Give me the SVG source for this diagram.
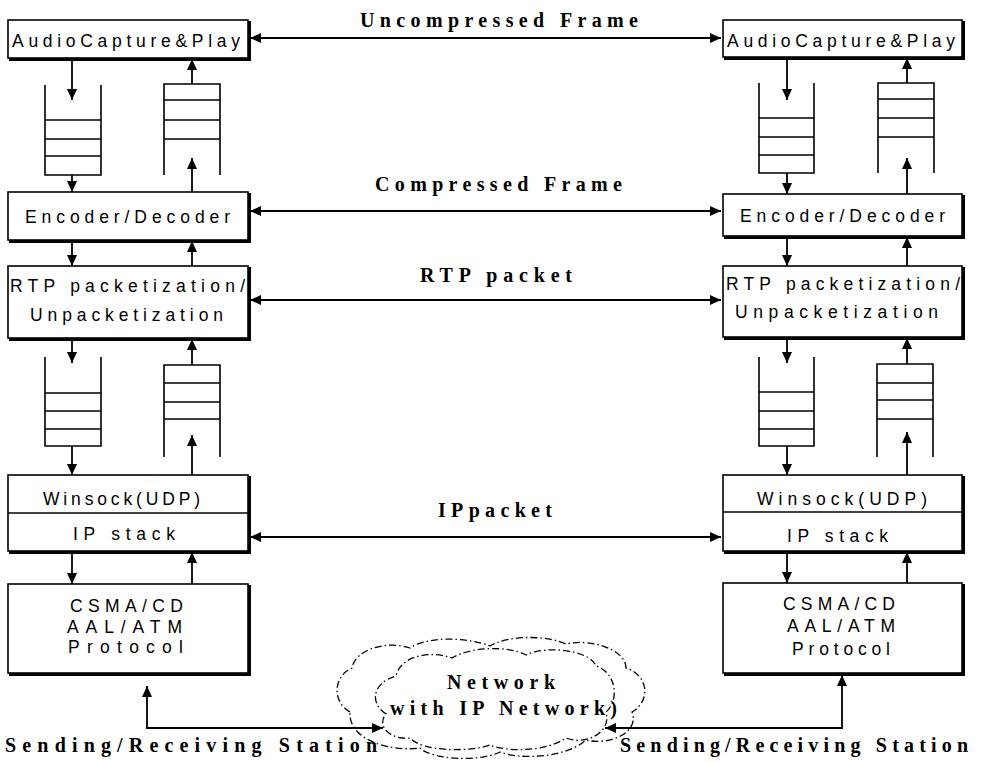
<svg xmlns="http://www.w3.org/2000/svg" width="982" height="763" viewBox="0 0 982 763">
  <style>
    .box { fill: #fff; stroke: #000; stroke-width: 1.6; }
    .shadow { fill: none; stroke: #000; stroke-width: 3; }
    .div { stroke: #000; stroke-width: 1.6; }
    .q { fill: none; stroke: #000; stroke-width: 1.6; }
    .lbl { font-family: "Liberation Sans", Arial, sans-serif; font-size: 17.5px; fill: #000; }
    .mid { font-family: "Liberation Serif", "Times New Roman", serif; font-weight: bold; font-size: 20px; fill: #000; }
    .wire { fill: none; stroke: #000; stroke-width: 1.8; }
    .hw { fill: none; stroke: #000; stroke-width: 2.2; }
    .cloud { fill: none; stroke: #000; stroke-width: 1.3; stroke-dasharray: 7 3 1.5 3; }
  </style>
  <defs>
    <marker id="ah" markerUnits="userSpaceOnUse" markerWidth="12" markerHeight="10" refX="11" refY="5" orient="auto-start-reverse">
      <path d="M0,0 L11,5 L0,10 Z" fill="#000"/>
    </marker>
  </defs>

  <rect width="982" height="763" fill="#fff"/>

  <!-- left station -->
  <g id="audio-left">
    <rect class="box" x="8" y="20" width="240" height="38"/>
    <path class="shadow" d="M249.5 21 V59.5 H9"/>
    <text class="lbl" x="12" y="47" textLength="228" lengthAdjust="spacing">AudioCapture&amp;Play</text>
  </g>
  <g id="codec-left">
    <rect class="box" x="8" y="192" width="240" height="48"/>
    <path class="shadow" d="M249.5 193 V241.5 H9"/>
    <text class="lbl" x="25" y="223" textLength="205" lengthAdjust="spacing">Encoder/Decoder</text>
  </g>
  <g id="rtp-left">
    <rect class="box" x="8" y="266" width="240" height="72"/>
    <path class="shadow" d="M249.5 267 V339.5 H9"/>
    <text class="lbl" x="10" y="292" textLength="235" lengthAdjust="spacing">RTP packetization/</text>
    <text class="lbl" x="30" y="321" textLength="193" lengthAdjust="spacing">Unpacketization</text>
  </g>
  <g id="udp-left">
    <rect class="box" x="8" y="475" width="240" height="76"/>
    <path class="shadow" d="M249.5 476 V552.5 H9"/>
    <line class="div" x1="8" y1="513" x2="248" y2="513"/>
    <text class="lbl" x="43" y="505" textLength="157" lengthAdjust="spacing">Winsock(UDP)</text>
    <text class="lbl" x="73" y="540" textLength="102" lengthAdjust="spacing">IP stack</text>
  </g>
  <g id="link-left">
    <rect class="box" x="8" y="584" width="240" height="89"/>
    <path class="shadow" d="M249.5 585 V674.5 H9"/>
    <text class="lbl" x="70" y="612" textLength="113" lengthAdjust="spacing">CSMA/CD</text>
    <text class="lbl" x="67" y="633" textLength="115" lengthAdjust="spacing">AAL/ATM</text>
    <text class="lbl" x="68" y="653" textLength="115" lengthAdjust="spacing">Protocol</text>
  </g>
  <g id="queue-left-1">
    <path class="q" d="M45 85 V175 H101 V85 M45 120 H101 M45 139 H101 M45 156 H101"/>
  </g>
  <g id="queue-left-2">
    <path class="q" d="M164 175 V84 H220 V175 M164 100 H220 M164 120 H220 M164 139 H220"/>
  </g>
  <g id="queue-left-3">
    <path class="q" d="M45 357 V446 H101 V357 M45 393 H101 M45 411 H101 M45 429 H101"/>
  </g>
  <g id="queue-left-4">
    <path class="q" d="M164 457 V365 H220 V457 M164 383 H220 M164 402 H220 M164 419 H220"/>
  </g>

  <!-- right station -->
  <g id="audio-right">
    <rect class="box" x="723" y="20" width="239" height="37"/>
    <path class="shadow" d="M963.5 21 V58.5 H724"/>
    <text class="lbl" x="727" y="47" textLength="228" lengthAdjust="spacing">AudioCapture&amp;Play</text>
  </g>
  <g id="codec-right">
    <rect class="box" x="723" y="194" width="239" height="42"/>
    <path class="shadow" d="M963.5 195 V237.5 H724"/>
    <text class="lbl" x="740" y="222" textLength="205" lengthAdjust="spacing">Encoder/Decoder</text>
  </g>
  <g id="rtp-right">
    <rect class="box" x="723" y="266" width="239" height="71"/>
    <path class="shadow" d="M963.5 267 V338.5 H724"/>
    <text class="lbl" x="726" y="290" textLength="234" lengthAdjust="spacing">RTP packetization/</text>
    <text class="lbl" x="735" y="318" textLength="203" lengthAdjust="spacing">Unpacketization</text>
  </g>
  <g id="udp-right">
    <rect class="box" x="723" y="475" width="239" height="76"/>
    <path class="shadow" d="M963.5 476 V552.5 H724"/>
    <line class="div" x1="723" y1="512" x2="962" y2="512"/>
    <text class="lbl" x="757" y="505" textLength="170" lengthAdjust="spacing">Winsock(UDP)</text>
    <text class="lbl" x="787" y="542" textLength="101" lengthAdjust="spacing">IP stack</text>
  </g>
  <g id="link-right">
    <rect class="box" x="723" y="583" width="239" height="90"/>
    <path class="shadow" d="M963.5 584 V674.5 H724"/>
    <text class="lbl" x="783" y="610" textLength="112" lengthAdjust="spacing">CSMA/CD</text>
    <text class="lbl" x="787" y="632" textLength="108" lengthAdjust="spacing">AAL/ATM</text>
    <text class="lbl" x="792" y="655" textLength="98" lengthAdjust="spacing">Protocol</text>
  </g>
  <g id="queue-right-1">
    <path class="q" d="M759 83 V173 H814 V83 M759 118 H814 M759 137 H814 M759 155 H814"/>
  </g>
  <g id="queue-right-2">
    <path class="q" d="M878 173 V83 H934 V173 M878 99 H934 M878 118 H934 M878 137 H934"/>
  </g>
  <g id="queue-right-3">
    <path class="q" d="M759 357 V446 H814 V357 M759 392 H814 M759 411 H814 M759 429 H814"/>
  </g>
  <g id="queue-right-4">
    <path class="q" d="M877 457 V364 H933 V457 M877 383 H933 M877 400 H933 M877 419 H933"/>
  </g>

  <!-- network cloud -->
  <g id="network">
    <path class="cloud" d="M350 712 C330 700 335 675 352 668 C355 650 385 640 410 648 C430 635 470 638 490 646 C510 634 550 636 566 644 C592 638 626 650 626 668 C650 676 650 702 632 712 C640 732 610 746 586 740 C566 758 520 760 500 752 C480 762 432 760 420 748 C390 752 348 740 350 712 Z"/>
    <path class="cloud" d="M386 714 C368 702 374 682 396 676 C400 656 430 650 452 658 C472 646 510 646 526 655 C546 645 590 650 596 666 C616 672 620 700 606 712 C612 732 586 746 566 738 C546 752 506 752 490 745 C470 752 422 752 410 738 C390 740 376 726 386 714 Z"/>
    <text class="mid" x="447" y="689" textLength="108" lengthAdjust="spacing">Network</text>
    <text class="mid" x="390" y="715" textLength="227" lengthAdjust="spacing">with IP Network)</text>
  </g>

  <!-- layer labels and bottom captions -->
  <g id="captions">
    <text class="mid" x="360" y="27" textLength="278" lengthAdjust="spacing">Uncompressed Frame</text>
    <text class="mid" x="375" y="191" textLength="247" lengthAdjust="spacing">Compressed Frame</text>
    <text class="mid" x="420" y="282" textLength="152" lengthAdjust="spacing">RTP packet</text>
    <text class="mid" x="438" y="517" textLength="114" lengthAdjust="spacing">IPpacket</text>
    <text class="mid" x="5" y="752" textLength="372" lengthAdjust="spacing">Sending/Receiving Station</text>
    <text class="mid" x="620" y="752" textLength="348" lengthAdjust="spacing">Sending/Receiving Station</text>
  </g>

  <!-- connectors -->
  <g id="connectors">
    <!-- peer-to-peer links -->
    <line class="hw" x1="250" y1="38" x2="721" y2="38" marker-start="url(#ah)" marker-end="url(#ah)"/>
    <line class="hw" x1="250" y1="211" x2="721" y2="211" marker-start="url(#ah)" marker-end="url(#ah)"/>
    <line class="hw" x1="250" y1="300" x2="721" y2="300" marker-start="url(#ah)" marker-end="url(#ah)"/>
    <line class="hw" x1="250" y1="537" x2="721" y2="537" marker-start="url(#ah)" marker-end="url(#ah)"/>

    <!-- left station, downward path -->
    <line class="wire" x1="72" y1="59" x2="72" y2="100" marker-end="url(#ah)"/>
    <line class="wire" x1="72" y1="175" x2="72" y2="192" marker-end="url(#ah)"/>
    <line class="wire" x1="72" y1="241" x2="72" y2="266" marker-end="url(#ah)"/>
    <line class="wire" x1="72" y1="339" x2="72" y2="363" marker-end="url(#ah)"/>
    <line class="wire" x1="72" y1="446" x2="72" y2="475" marker-end="url(#ah)"/>
    <line class="wire" x1="72" y1="552" x2="72" y2="584" marker-end="url(#ah)"/>
    <!-- left station, upward path -->
    <line class="wire" x1="192" y1="84" x2="192" y2="59" marker-end="url(#ah)"/>
    <line class="wire" x1="192" y1="192" x2="192" y2="158" marker-end="url(#ah)"/>
    <line class="wire" x1="192" y1="266" x2="192" y2="241" marker-end="url(#ah)"/>
    <line class="wire" x1="192" y1="365" x2="192" y2="339" marker-end="url(#ah)"/>
    <line class="wire" x1="192" y1="475" x2="192" y2="435" marker-end="url(#ah)"/>
    <line class="wire" x1="192" y1="584" x2="192" y2="552" marker-end="url(#ah)"/>

    <!-- right station, downward path -->
    <line class="wire" x1="787" y1="58" x2="787" y2="100" marker-end="url(#ah)"/>
    <line class="wire" x1="787" y1="173" x2="787" y2="194" marker-end="url(#ah)"/>
    <line class="wire" x1="787" y1="237" x2="787" y2="266" marker-end="url(#ah)"/>
    <line class="wire" x1="787" y1="338" x2="787" y2="363" marker-end="url(#ah)"/>
    <line class="wire" x1="787" y1="446" x2="787" y2="475" marker-end="url(#ah)"/>
    <line class="wire" x1="787" y1="552" x2="787" y2="583" marker-end="url(#ah)"/>
    <!-- right station, upward path -->
    <line class="wire" x1="907" y1="83" x2="907" y2="58" marker-end="url(#ah)"/>
    <line class="wire" x1="907" y1="194" x2="907" y2="158" marker-end="url(#ah)"/>
    <line class="wire" x1="907" y1="266" x2="907" y2="237" marker-end="url(#ah)"/>
    <line class="wire" x1="907" y1="364" x2="907" y2="338" marker-end="url(#ah)"/>
    <line class="wire" x1="907" y1="475" x2="907" y2="432" marker-end="url(#ah)"/>
    <line class="wire" x1="907" y1="583" x2="907" y2="552" marker-end="url(#ah)"/>

    <!-- stations to network -->
    <path class="wire" d="M383 728 H147 V686" marker-start="url(#ah)" marker-end="url(#ah)"/>
    <path class="wire" d="M605 728 H842 V675" marker-start="url(#ah)" marker-end="url(#ah)"/>
  </g>
</svg>
